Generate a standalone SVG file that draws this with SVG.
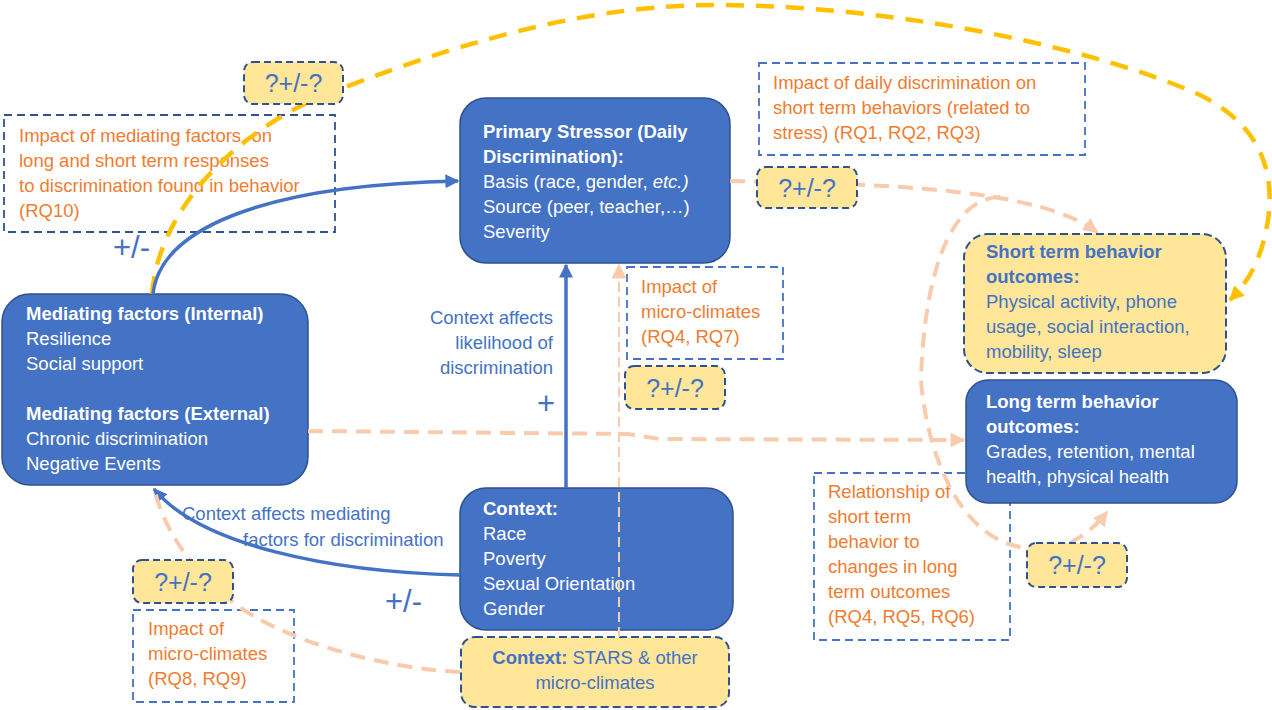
<svg xmlns="http://www.w3.org/2000/svg" width="1272" height="710" viewBox="0 0 1272 710">
<style>
  text { font-family: "Liberation Sans", Arial, sans-serif; font-size: 18.5px; }
  .w { fill: #FFFFFF; }
  .b { fill: #4472C4; }
  .o { fill: #ED7D31; }
  .bold { font-weight: bold; }
  .node { fill: #4472C4; stroke: #2F528F; stroke-width: 1.5; }
  .ynode { fill: #FFE699; stroke: #2F528F; stroke-width: 2; stroke-dasharray: 8 4; }
  .lbl { fill: none; stroke: #4472C4; stroke-width: 1.8; stroke-dasharray: 8 5; }
  .lbld { fill: none; stroke: #2F528F; stroke-width: 1.8; stroke-dasharray: 8 5; }
  .badge { fill: #FFE699; stroke: #2F528F; stroke-width: 2; stroke-dasharray: 7 4; }
  .bt { font-size: 25px; fill: #4472C4; text-anchor: middle; }
  .sign { font-size: 31px; fill: #4472C4; }
  .blue { fill: none; stroke: #4472C4; stroke-width: 3.5; }
  .peach { fill: none; stroke: #F8CBAD; stroke-width: 4; stroke-dasharray: 15 9; }
  .peachthin { fill: none; stroke: #F8CBAD; stroke-width: 2; stroke-dasharray: 10 5; }
  .gold { fill: none; stroke: #FFC000; stroke-width: 4.5; stroke-dasharray: 18 12; }
</style>
<defs>
  <marker id="mb" viewBox="0 0 10 10" refX="9" refY="5" markerWidth="14" markerHeight="14" markerUnits="userSpaceOnUse" orient="auto">
    <path d="M0,0 L10,5 L0,10 z" fill="#4472C4"/>
  </marker>
  <marker id="mp" viewBox="0 0 10 10" refX="9" refY="5" markerWidth="15" markerHeight="15" markerUnits="userSpaceOnUse" orient="auto">
    <path d="M0,0 L10,5 L0,10 z" fill="#F8CBAD"/>
  </marker>
  <marker id="mg" viewBox="0 0 10 10" refX="9" refY="5" markerWidth="15" markerHeight="15" markerUnits="userSpaceOnUse" orient="auto">
    <path d="M0,0 L10,5 L0,10 z" fill="#FFC000"/>
  </marker>
</defs>

<!-- label boxes -->
<g id="label-rq10">
  <rect class="lbld" x="4" y="115" width="331" height="117"/>
  <text class="o" x="19" y="142">Impact of mediating factors, on</text>
  <text class="o" x="19" y="167">long and short term responses</text>
  <text class="o" x="19" y="192">to discrimination found in behavior</text>
  <text class="o" x="19" y="217">(RQ10)</text>
</g>
<g id="label-rq123">
  <rect class="lbl" x="759" y="63" width="326" height="92"/>
  <text class="o" x="773" y="89">Impact of daily discrimination on</text>
  <text class="o" x="773" y="114">short term behaviors (related to</text>
  <text class="o" x="773" y="139">stress) (RQ1, RQ2, RQ3)</text>
</g>
<g id="label-rq47">
  <rect class="lbl" x="627" y="267" width="156" height="92"/>
  <text class="o" x="641" y="293">Impact of</text>
  <text class="o" x="641" y="318">micro-climates</text>
  <text class="o" x="641" y="343">(RQ4, RQ7)</text>
</g>
<g id="label-rq89">
  <rect class="lbl" x="133" y="610" width="161" height="92"/>
  <text class="o" x="148" y="635">Impact of</text>
  <text class="o" x="148" y="660">micro-climates</text>
  <text class="o" x="148" y="685">(RQ8, RQ9)</text>
</g>
<g id="label-rq456">
  <rect class="lbl" x="814" y="473" width="196" height="167"/>
  <text class="o" x="828" y="498">Relationship of</text>
  <text class="o" x="828" y="523">short term</text>
  <text class="o" x="828" y="548">behavior to</text>
  <text class="o" x="828" y="573">changes in long</text>
  <text class="o" x="828" y="598">term outcomes</text>
  <text class="o" x="828" y="623">(RQ4, RQ5, RQ6)</text>
</g>

<!-- main nodes -->
<g id="primary-stressor">
  <rect class="node" x="460" y="98" width="270" height="165" rx="26"/>
  <text class="w bold" x="483" y="138">Primary Stressor (Daily</text>
  <text class="w bold" x="483" y="163">Discrimination):</text>
  <text class="w" x="483" y="188">Basis (race, gender, <tspan font-style="italic">etc.)</tspan></text>
  <text class="w" x="483" y="213">Source (peer, teacher,…)</text>
  <text class="w" x="483" y="238">Severity</text>
</g>
<g id="mediating-factors">
  <rect class="node" x="2" y="294" width="306" height="191" rx="28"/>
  <text class="w bold" x="26" y="320">Mediating factors (Internal)</text>
  <text class="w" x="26" y="345">Resilience</text>
  <text class="w" x="26" y="370">Social support</text>
  <text class="w bold" x="26" y="420">Mediating factors (External)</text>
  <text class="w" x="26" y="445">Chronic discrimination</text>
  <text class="w" x="26" y="470">Negative Events</text>
</g>
<g id="short-term">
  <rect class="ynode" x="964" y="234" width="262" height="139" rx="24"/>
  <text class="b bold" x="986" y="258">Short term behavior</text>
  <text class="b bold" x="986" y="283">outcomes:</text>
  <text class="b" x="986" y="308">Physical activity, phone</text>
  <text class="b" x="986" y="333">usage, social interaction,</text>
  <text class="b" x="986" y="358">mobility, sleep</text>
</g>
<g id="long-term">
  <rect class="node" x="966" y="380" width="271" height="123" rx="22"/>
  <text class="w bold" x="986" y="408">Long term behavior</text>
  <text class="w bold" x="986" y="433">outcomes:</text>
  <text class="w" x="986" y="458">Grades, retention, mental</text>
  <text class="w" x="986" y="483">health, physical health</text>
</g>
<g id="context">
  <rect class="node" x="460" y="488" width="273" height="142" rx="26"/>
  <text class="w bold" x="483" y="515">Context:</text>
  <text class="w" x="483" y="540">Race</text>
  <text class="w" x="483" y="565">Poverty</text>
  <text class="w" x="483" y="590">Sexual Orientation</text>
  <text class="w" x="483" y="615">Gender</text>
</g>
<g id="context-stars">
  <rect class="ynode" x="461" y="637" width="268" height="70" rx="14"/>
  <text class="b" x="595" y="664" text-anchor="middle"><tspan font-weight="bold">Context:</tspan> STARS &amp; other</text>
  <text class="b" x="595" y="689" text-anchor="middle">micro-climates</text>
</g>

<!-- connectors -->
<g id="connectors">
  <path class="gold" d="M152,294 C160,200 250,120 343,88 C480,35 600,5 714,5 C900,5 1100,50 1200,95 C1260,125 1275,170 1268,220 C1262,258 1250,280 1230,300" marker-end="url(#mg)"/>
  <path class="blue" d="M153,294 C160,230 260,185 458,181" marker-end="url(#mb)"/>
  <path class="blue" d="M460,575 C330,572 200,545 154,489" marker-end="url(#mb)"/>
  <path class="blue" d="M566,488 L566,265" marker-end="url(#mb)"/>
  <path class="peachthin" d="M619,637 L619,265" marker-end="url(#mp)"/>
  <path class="peach" d="M460,672 C380,668 280,640 230,600 C190,568 165,530 155,492"/>
  <path class="peach" d="M308,431 L628,434 L660,439 L964,440" marker-end="url(#mp)"/>
  <path class="peach" d="M730,181 C900,184 1040,190 1097,232" marker-end="url(#mp)"/>
  <path class="peach" d="M1000,197 C958,197 925,255 921,380 C926,450 960,545 1030,548"/>
  <path class="peach" d="M1070,543 C1085,535 1097,525 1107,512" marker-end="url(#mp)"/>
</g>

<!-- badges -->
<g id="badge-1"><rect class="badge" x="244" y="62" width="99" height="42" rx="9"/><text class="bt" x="293.5" y="92">?+/-?</text></g>
<g id="badge-2"><rect class="badge" x="757" y="167" width="100" height="41" rx="9"/><text class="bt" x="807" y="197">?+/-?</text></g>
<g id="badge-3"><rect class="badge" x="625" y="366" width="100" height="43" rx="9"/><text class="bt" x="675" y="397">?+/-?</text></g>
<g id="badge-4"><rect class="badge" x="133" y="560" width="100" height="43" rx="9"/><text class="bt" x="183" y="591">?+/-?</text></g>
<g id="badge-5"><rect class="badge" x="1027" y="543" width="100" height="44" rx="9"/><text class="bt" x="1077" y="574">?+/-?</text></g>

<!-- connector labels -->
<g id="connector-labels">
  <text class="b" x="553" y="324" text-anchor="end">Context affects</text>
  <text class="b" x="553" y="349" text-anchor="end">likelihood of</text>
  <text class="b" x="553" y="374" text-anchor="end">discrimination</text>
  <text class="sign" x="537" y="414">+</text>
  <text class="b" x="182" y="520">Context affects mediating</text>
  <text class="b" x="243" y="546">factors for discrimination</text>
  <text class="sign" x="113" y="258">+/-</text>
  <text class="sign" x="385" y="612">+/-</text>
</g>
</svg>
